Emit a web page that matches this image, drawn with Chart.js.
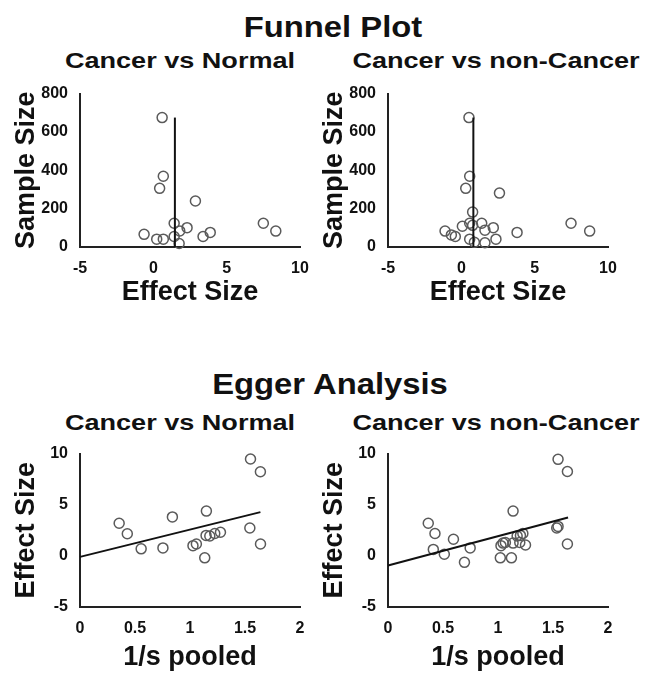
<!DOCTYPE html>
<html>
<head>
<meta charset="utf-8">
<title>Funnel Plot / Egger Analysis</title>
<script src="https://cdn.jsdelivr.net/npm/chart.js@4.4.1/dist/chart.umd.min.js"></script>
<style>
  body { margin: 0; background: #fff; width: 645px; height: 675px; position: relative; overflow: hidden; }
  .t { position: absolute; font-family: "Liberation Sans", Arial, sans-serif; font-weight: bold; color: #111; line-height: 1; white-space: nowrap; }
  canvas { position: absolute; }
</style>
</head>
<body>
<div class="t" style="left:333px; top:13px; font-size:29px; transform:translateX(-50%) scaleX(1.13)">Funnel Plot</div>
<div class="t" style="left:180px; top:50px; font-size:22px; transform:translateX(-50%) scaleX(1.23)">Cancer vs Normal</div>
<div class="t" style="left:496px; top:50px; font-size:22px; transform:translateX(-50%) scaleX(1.23)">Cancer vs non-Cancer</div>
<div class="t" style="left:330px; top:370px; font-size:29px; transform:translateX(-50%) scaleX(1.13)">Egger Analysis</div>
<div class="t" style="left:180px; top:412px; font-size:22px; transform:translateX(-50%) scaleX(1.23)">Cancer vs Normal</div>
<div class="t" style="left:496px; top:412px; font-size:22px; transform:translateX(-50%) scaleX(1.23)">Cancer vs non-Cancer</div>

<canvas id="funnelNormal" width="322" height="248" style="left:0px; top:72px"></canvas>
<canvas id="funnelNon" width="322" height="248" style="left:308px; top:72px"></canvas>
<canvas id="eggerNormal" width="322" height="243" style="left:0px; top:432px"></canvas>
<canvas id="eggerNon" width="322" height="243" style="left:308px; top:432px"></canvas>

<script>
// funnel plot: effect size vs sample size
const funnelNormalEffect = [0.6, 0.68, 0.43, 2.87, 1.42, 1.8, 2.3, -0.63, 0.23, 0.68, 1.42, 1.76, 3.39, 3.88, 7.5, 8.35];
const funnelNormalSize = [675, 369, 306, 240, 124, 84, 101, 66, 41, 41, 55, 18, 55, 76, 124, 83];
const funnelNormalPooled = 1.47;

const funnelNonEffect = [0.52, 0.57, 0.3, 2.6, 0.77, 0.57, 0.77, 1.39, 0.07, 1.61, 2.18, 2.36, -1.11, -0.68, -0.41, 0.57, 0.89, 1.61, 3.8, 7.48, 8.75];
const funnelNonSize = [675, 369, 306, 281, 182, 124, 113, 124, 108, 88, 101, 41, 83, 63, 55, 41, 25, 22, 76, 124, 83];
const funnelNonPooled = 0.82;

const funnelMaxSize = 675;

// egger analysis: 1/s pooled vs effect size
const eggerNormalX = [0.356, 0.43, 0.556, 0.754, 0.84, 1.027, 1.058, 1.134, 1.149, 1.146, 1.18, 1.225, 1.277, 1.544, 1.55, 1.64, 1.641];
const eggerNormalY = [3.19, 2.16, 0.69, 0.78, 3.81, 1.0, 1.16, -0.19, 4.38, 2.0, 1.94, 2.19, 2.31, 2.72, 9.47, 8.22, 1.16];
const eggerNormalLineX = [0, 1.64];
const eggerNormalLineY = [-0.1, 4.28];

const eggerNonX = [0.366, 0.427, 0.412, 0.512, 0.595, 0.695, 0.747, 1.021, 1.027, 1.046, 1.067, 1.122, 1.137, 1.137, 1.174, 1.198, 1.204, 1.226, 1.25, 1.534, 1.546, 1.546, 1.631, 1.631];
const eggerNonY = [3.19, 2.19, 0.63, 0.16, 1.63, -0.63, 0.78, -0.19, 1.0, 1.25, 1.31, -0.19, 4.38, 1.25, 1.94, 1.31, 2.0, 2.19, 1.06, 2.72, 2.88, 9.44, 8.25, 1.16];
const eggerNonLineX = [0, 1.637];
const eggerNonLineY = [-0.94, 3.75];

// axis ticks
const funnelXTicks = [-5, 0, 5, 10];
const funnelYTicks = [0, 200, 400, 600, 800];
const eggerXTicks = [0, 0.5, 1, 1.5, 2];
const eggerYTicks = [-5, 0, 5, 10];

Chart.defaults.font.family = '"Liberation Sans", Arial, sans-serif';
Chart.defaults.font.weight = 'bold';
Chart.defaults.color = '#111';

function toPoints(xs, ys) {
    return xs.map((x, i) => ({ x: x, y: ys[i] }));
}

function makePanel(id, opt) {
    const ctx = document.getElementById(id).getContext('2d');
    return new Chart(ctx, {
        type: 'scatter',
        data: {
            datasets: [{
                type: 'line',
                data: opt.line,
                borderColor: '#111',
                borderWidth: 2,
                pointRadius: 0,
                fill: false,
                clip: false
            }, {
                data: opt.points,
                pointStyle: 'circle',
                pointRadius: 5,
                pointHoverRadius: 5,
                borderWidth: 1.5,
                borderColor: '#5a5a5a',
                backgroundColor: 'rgba(0,0,0,0)',
                clip: false
            }]
        },
        options: {
            responsive: false,
            animation: false,
            layout: { padding: { top: 15, right: 22, left: 0, bottom: 0 } },
            plugins: {
                legend: { display: false },
                tooltip: { enabled: false }
            },
            scales: {
                x: {
                    type: 'linear',
                    min: opt.xTicks[0],
                    max: opt.xTicks[opt.xTicks.length - 1],
                    afterBuildTicks: (scale) => { scale.ticks = opt.xTicks.map(v => ({ value: v })); },
                    ticks: { padding: 12, font: { size: 16, weight: 'bold' }, callback: (v) => String(v) },
                    grid: { display: false, drawTicks: false },
                    border: { display: true, width: 2, color: '#222' },
                    title: {
                        display: true,
                        text: opt.xTitle,
                        font: { size: 27, weight: 'bold' },
                        padding: { top: 0, bottom: opt.xTitlePad }
                    },
                    afterFit: (scale) => { scale.height = opt.xHeight; }
                },
                y: {
                    type: 'linear',
                    min: opt.yTicks[0],
                    max: opt.yTicks[opt.yTicks.length - 1],
                    afterBuildTicks: (scale) => { scale.ticks = opt.yTicks.map(v => ({ value: v })); },
                    ticks: { padding: 12, font: { size: 16, weight: 'bold' }, callback: (v) => String(v) },
                    grid: { display: false, drawTicks: false },
                    border: { display: true, width: 2, color: '#222' },
                    title: {
                        display: true,
                        text: opt.yTitle,
                        font: { size: 27, weight: 'bold' },
                        padding: { top: 10, bottom: 0 }
                    },
                    afterFit: (scale) => { scale.width = 80; }
                }
            }
        }
    });
}

makePanel('funnelNormal', {
    points: toPoints(funnelNormalEffect, funnelNormalSize),
    line: toPoints([funnelNormalPooled, funnelNormalPooled], [0, funnelMaxSize]),
    xTicks: funnelXTicks, yTicks: funnelYTicks,
    xTitle: 'Effect Size', yTitle: 'Sample Size',
    xHeight: 73, xTitlePad: 11
});

makePanel('funnelNon', {
    points: toPoints(funnelNonEffect, funnelNonSize),
    line: toPoints([funnelNonPooled, funnelNonPooled], [0, funnelMaxSize]),
    xTicks: funnelXTicks, yTicks: funnelYTicks,
    xTitle: 'Effect Size', yTitle: 'Sample Size',
    xHeight: 73, xTitlePad: 11
});

makePanel('eggerNormal', {
    points: toPoints(eggerNormalX, eggerNormalY),
    line: toPoints(eggerNormalLineX, eggerNormalLineY),
    xTicks: eggerXTicks, yTicks: eggerYTicks,
    xTitle: '1/s pooled', yTitle: 'Effect Size',
    xHeight: 68, xTitlePad: 1
});

makePanel('eggerNon', {
    points: toPoints(eggerNonX, eggerNonY),
    line: toPoints(eggerNonLineX, eggerNonLineY),
    xTicks: eggerXTicks, yTicks: eggerYTicks,
    xTitle: '1/s pooled', yTitle: 'Effect Size',
    xHeight: 68, xTitlePad: 1
});
</script>
</body>
</html>
